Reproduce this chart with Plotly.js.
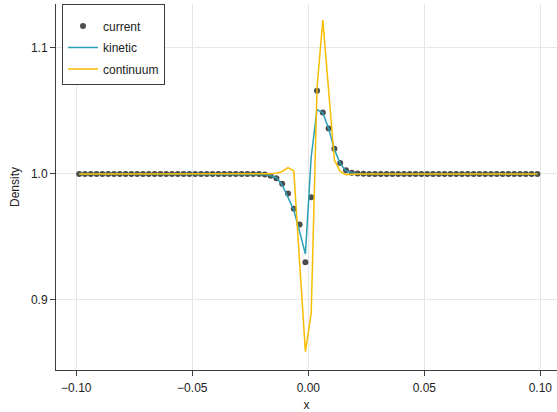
<!DOCTYPE html>
<html>
<head>
<meta charset="utf-8">
<script src="https://cdn.plot.ly/plotly-3.0.1.min.js"></script>
<style>html,body{margin:0;padding:0;background:#fff;}#chart{width:557px;height:412px;}</style>
</head>
<body>
<div id="chart"></div>
<script>
const xValues = [
  -0.09875, -0.09625, -0.09375, -0.09125, -0.08875, -0.08625, -0.08375, -0.08125, -0.07875, -0.07625,
  -0.07375, -0.07125, -0.06875, -0.06625, -0.06375, -0.06125, -0.05875, -0.05625, -0.05375, -0.05125,
  -0.04875, -0.04625, -0.04375, -0.04125, -0.03875, -0.03625, -0.03375, -0.03125, -0.02875, -0.02625,
  -0.02375, -0.02125, -0.01875, -0.01625, -0.01375, -0.01125, -0.00875, -0.00625, -0.00375, -0.00125,
  0.00125, 0.00375, 0.00625, 0.00875, 0.01125, 0.01375, 0.01625, 0.01875, 0.02125, 0.02375,
  0.02625, 0.02875, 0.03125, 0.03375, 0.03625, 0.03875, 0.04125, 0.04375, 0.04625, 0.04875,
  0.05125, 0.05375, 0.05625, 0.05875, 0.06125, 0.06375, 0.06625, 0.06875, 0.07125, 0.07375,
  0.07625, 0.07875, 0.08125, 0.08375, 0.08625, 0.08875, 0.09125, 0.09375, 0.09625, 0.09875
];

const currentDensity = [
  1, 1, 1, 1, 1, 1, 1, 1, 1, 1,
  1, 1, 1, 1, 1, 1, 1, 1, 1, 1,
  1, 1, 1, 1, 1, 1, 1, 1, 1, 1,
  1.0, 0.9999, 0.9995, 0.9986, 0.9966, 0.9923, 0.9845, 0.9724, 0.9598, 0.9300,
  0.9816, 1.0660, 1.0488, 1.0360, 1.0201, 1.0087, 1.0030, 1.0010, 1.0003, 1.0001,
  1, 1, 1, 1, 1, 1, 1, 1, 1, 1,
  1, 1, 1, 1, 1, 1, 1, 1, 1, 1,
  1, 1, 1, 1, 1, 1, 1, 1, 1, 1
];

const kineticDensity = [
  1, 1, 1, 1, 1, 1, 1, 1, 1, 1,
  1, 1, 1, 1, 1, 1, 1, 1, 1, 1,
  1, 1, 1, 1, 1, 1, 1, 1, 1, 1,
  1.0, 0.9999, 0.9996, 0.9987, 0.9970, 0.9913, 0.9820, 0.9714, 0.9542, 0.9365,
  1.0135, 1.0510, 1.0485, 1.0360, 1.0195, 1.0082, 1.0026, 1.0008, 1.0002, 1.0,
  1, 1, 1, 1, 1, 1, 1, 1, 1, 1,
  1, 1, 1, 1, 1, 1, 1, 1, 1, 1,
  1, 1, 1, 1, 1, 1, 1, 1, 1, 1
];

const continuumDensity = [
  1, 1, 1, 1, 1, 1, 1, 1, 1, 1,
  1, 1, 1, 1, 1, 1, 1, 1, 1, 1,
  1, 1, 1, 1, 1, 1, 1, 1, 1, 1,
  1.0, 1.0, 1.0, 1.0001, 1.0006, 1.0020, 1.0050, 1.0024, 0.9300, 0.8590,
  0.8894, 1.0680, 1.1222, 1.0640, 1.0110, 1.0020, 0.9994, 0.9997, 1.0, 1.0,
  1, 1, 1, 1, 1, 1, 1, 1, 1, 1,
  1, 1, 1, 1, 1, 1, 1, 1, 1, 1,
  1, 1, 1, 1, 1, 1, 1, 1, 1, 1
];

const seriesNames = ["current", "kinetic", "continuum"];
const xTicks = [-0.10, -0.05, 0.00, 0.05, 0.10];
const yTicks = [0.9, 1.0, 1.1];

const font = "'Liberation Sans', Arial, Helvetica, sans-serif";
const axisColor = "rgb(60,60,60)";

const traces = [
  {
    x: xValues, y: currentDensity, name: seriesNames[0], legendgroup: "g1",
    type: "scatter", mode: "markers",
    marker: {color: "rgb(77,77,77)", size: 6}
  },
  {
    x: xValues, y: kineticDensity, name: seriesNames[1], legendgroup: "g2",
    type: "scatter", mode: "lines",
    line: {color: "#2a9fb6", width: 1.5}
  },
  {
    x: xValues, y: continuumDensity, name: seriesNames[2], legendgroup: "g3",
    type: "scatter", mode: "lines",
    line: {color: "#f8bd00", width: 1.5}
  }
];

const layout = {
  width: 557, height: 412,
  margin: {l: 56, r: 0, t: 4, b: 42, pad: 0},
  paper_bgcolor: "#fff", plot_bgcolor: "#fff",
  font: {family: font, size: 12, color: "#222"},
  showlegend: true,
  legend: {
    x: 0.012, y: 1, xanchor: "left", yanchor: "top",
    xref: "paper", yref: "paper",
    bgcolor: "#fff", bordercolor: axisColor, borderwidth: 1,
    font: {family: font, size: 12, color: "#222"},
    title: {text: " ", font: {size: 5}},
    itemwidth: 30, tracegroupgap: 2.5
  },
  xaxis: {
    range: [-0.10875, 0.1072],
    tickvals: xTicks, tickformat: ".2f",
    showgrid: true, gridcolor: "#e6e6e6", gridwidth: 1,
    zeroline: false,
    showline: true, linecolor: axisColor, linewidth: 1,
    ticks: "outside", ticklen: 5, tickcolor: axisColor, tickwidth: 1,
    ticklabelstandoff: 2,
    tickfont: {family: font, size: 12, color: "#222"},
    title: {text: "x", font: {family: font, size: 12, color: "#222"}, standoff: 11}
  },
  yaxis: {
    range: [0.8444, 1.1349],
    tickvals: yTicks, tickformat: ".1f",
    showgrid: true, gridcolor: "#e6e6e6", gridwidth: 1,
    zeroline: false,
    showline: true, linecolor: axisColor, linewidth: 1,
    ticks: "outside", ticklen: 5, tickcolor: axisColor, tickwidth: 1,
    tickfont: {family: font, size: 12, color: "#222"},
    title: {text: "Density", font: {family: font, size: 12, color: "#222"}, standoff: 8}
  }
};

Plotly.newPlot("chart", traces, layout, {displayModeBar: false, staticPlot: true});
</script>
</body>
</html>
